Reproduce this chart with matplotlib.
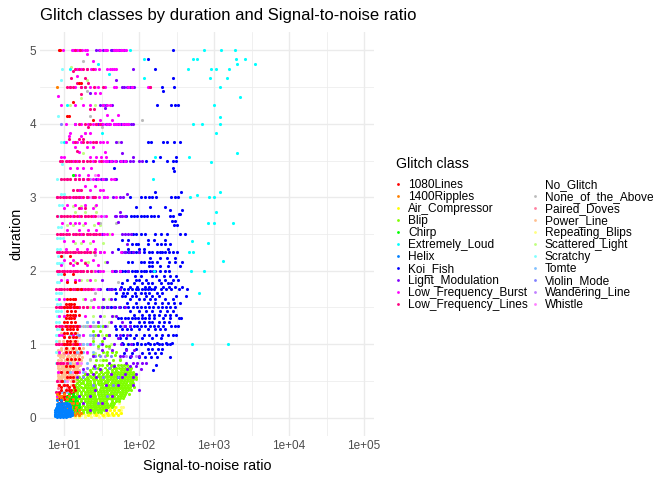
import matplotlib
matplotlib.use('Agg')
import matplotlib.pyplot as plt
from matplotlib.lines import Line2D

plt.rcParams['font.family'] = ['Liberation Sans', 'DejaVu Sans']

# class names and colours, legend order
classes = ['1080Lines', '1400Ripples', 'Air_Compressor', 'Blip', 'Chirp', 'Extremely_Loud',
           'Helix', 'Koi_Fish', 'Light_Modulation', 'Low_Frequency_Burst', 'Low_Frequency_Lines',
           'No_Glitch', 'None_of_the_Above', 'Paired_Doves', 'Power_Line', 'Repeating_Blips',
           'Scattered_Light', 'Scratchy', 'Tomte', 'Violin_Mode', 'Wandering_Line', 'Whistle']
colors = ['#FF0000', '#FF8000', '#FFFF00', '#80FF00', '#00FF00', '#00FFFF',
          '#0080FF', '#0000FF', '#8000FF', '#FF00FF', '#FF0080',
          '#FFFFFF', '#BBBBBB', '#FF80A0', '#FFC090', '#FFFF80',
          '#C0FF80', '#80FFFF', '#80C0FF', '#8080FF', '#C080FF', '#FF80FF']

# every class: duration -> signal-to-noise values
lines_1080 = {
    5: [8.5, 8.8], 4.55: [16, 17], 4.3: [13], 4.1: [11, 11.5], 4.05: [24], 2.2: [9, 12], 1.95: [10, 13],
    1.85: [11, 14], 1.75: [12, 15, 17],
    1.62: [11, 12, 13, 14], 1.55: [10.5, 11.5, 12.5, 13.5], 1.5: [10, 11, 12, 13.5, 15], 1.45: [11, 12.5, 14],
    1.4: [11, 12, 13, 14, 16], 1.35: [10.5, 11.5, 12.5, 13.5], 1.3: [10, 11, 12.5, 14], 1.25: [10.5, 12, 13, 15],
    1.2: [9.5, 11, 12, 13, 15], 1.15: [10, 11, 12.5, 14], 1.1: [10, 11.5, 13, 14.5], 1.05: [11, 12, 14],
    1: [10, 11, 12, 14, 15], 0.95: [10.5, 13, 16], 0.9: [10.5, 12, 13.5, 17],
    0.8: [11, 12.5, 14, 16], 0.7: [10.5, 12, 13], 0.62: [9, 11, 14, 15], 0.55: [11, 12, 13], 0.5: [9.5, 13],
    0.45: [8.5, 10, 11, 13], 0.42: [9, 11.5, 13.5], 0.38: [9, 10.5, 11.5, 12.5, 14], 0.34: [8.5, 10, 12, 13],
    0.3: [9, 10, 11, 13], 0.27: [9.5, 11, 12.5], 0.25: [8.5, 10, 11.5, 12], 0.22: [9, 10.5, 13],
    0.18: [8.5, 9.5, 11, 12, 13], 0.15: [10, 13.5], 0.12: [9, 10.5, 12],
}
ripples_1400 = {
    4.5: [8], 0.32: [8, 10], 0.3: [8.5, 9, 11.5], 0.25: [8, 9.5, 11, 13], 0.2: [8.2, 10, 12, 13, 15], 0.15: [8, 9, 11, 12.5, 14.5],
    0.1: [8.5, 10.5, 12, 14, 16], 0.06: [9, 11, 13, 15, 17], 0.03: [8, 12, 14, 16],
}
air_compressor = {
    0.25: [30, 36], 0.2: [27, 32, 38, 45], 0.15: [23, 28, 34, 38, 42, 48], 0.1: [20, 25, 30, 36, 41, 47, 54],
    0.06: [18, 22, 26, 31, 37, 43, 50, 57], 0.03: [16, 21, 27, 33, 39, 45, 52],
}
blip = {
    1.25: [28, 33], 1.18: [24, 30], 1.12: [26, 36], 1.05: [32, 24], 0.98: [36, 40, 28], 0.9: [33, 38, 44, 50], 0.85: [29, 38, 48, 24],
    0.78: [33, 36, 55, 27, 45],
    0.72: [26, 29, 32, 38, 42, 46, 52, 58, 64, 70],
    0.68: [24, 28, 35, 41, 47, 50, 54, 60, 66, 72, 78],
    0.65: [22, 30, 33, 37, 44, 49, 57, 63, 69, 75],
    0.62: [23, 27, 31, 35, 39, 44, 48, 53, 58, 63, 70, 76, 84],
    0.6: [19, 21, 25, 29, 33, 37, 42, 46, 51, 56, 61, 67, 73, 80, 88],
    0.57: [18, 22, 25, 28, 32, 36, 40, 44, 49, 55, 61, 67, 73, 80, 86],
    0.55: [16, 20, 23, 26, 30, 34, 38, 42, 47, 52, 58, 64, 70, 77, 84, 92],
    0.52: [15, 17, 19, 21, 24, 27, 30, 33, 37, 41, 45, 50, 55, 60, 66, 72, 78, 84, 90],
    0.5: [16, 18, 20, 22, 25, 28, 31, 35, 39, 43, 48, 53, 58, 63, 69, 75, 81],
    0.47: [15, 17, 18, 20, 22, 25, 28, 31, 34, 38, 42, 46, 51, 56, 62, 68, 75, 82],
    0.45: [14, 16, 19, 21, 23, 26, 29, 32, 36, 40, 44, 49, 54, 60, 66, 72, 79],
    0.42: [14, 15, 17, 19, 21, 23, 26, 29, 32, 35, 39, 43, 47, 52, 58, 64, 70, 76, 85],
    0.4: [13.5, 15.5, 18, 20, 22, 24, 27, 30, 33, 37, 41, 45, 50, 55, 61, 67, 73],
    0.37: [13, 14.5, 16, 18, 20, 22, 24, 27, 30, 33, 36, 40, 44, 48, 53, 59, 65, 72, 78],
    0.35: [13.5, 15, 17, 19, 21, 23, 25, 28, 31, 34, 38, 42, 46, 51, 56, 62, 68],
    0.32: [13, 15, 17, 19, 21, 23, 25, 28, 31, 34, 37, 41, 45, 50, 55, 60, 66, 74],
    0.3: [14, 16, 18, 20, 22, 24, 26, 29, 32, 35, 39, 43, 47, 52, 57, 63],
    0.27: [13, 14, 16, 18, 20, 22, 24, 26, 29, 32, 35, 38, 42, 46, 51, 56, 62],
    0.25: [13.5, 15, 17, 19, 21, 23, 25, 27, 30, 33, 37, 40, 44, 49, 54],
    0.22: [13, 15, 17, 19, 21, 23, 25, 27, 30, 33, 36, 40, 44, 49, 54],
    0.2: [14, 16, 18, 20, 22, 24, 26, 28, 31, 34, 38, 42, 47],
    0.17: [13, 14.5, 16, 18, 20, 22, 24, 26, 28, 31, 34, 37, 41, 45],
    0.15: [13.5, 15, 17, 19, 21, 23, 25, 27, 29, 32, 35, 39, 43],
    0.12: [13, 14, 15.5, 17, 19, 21, 23, 25, 27, 30, 33, 36],
    0.1: [14.5, 16, 18, 20, 22, 24, 26, 28, 31, 34],
    0.08: [14, 16, 18, 20, 22, 25, 28, 31],
}
chirp = {
    3.3: [13], 0.32: [11.5, 13], 0.28: [11, 12.5, 13.5, 14.5], 0.25: [11.5, 13, 14], 0.22: [10.5, 11.5, 12.5, 14, 15],
    0.18: [11, 12, 13, 14, 15, 16], 0.14: [10.5, 11.5, 13, 14.5, 16], 0.1: [11, 12, 13.5, 15], 0.06: [12, 13, 15],
}
extremely_loud = {
    5: [76, 730, 1250, 1920], 4.88: [118, 530, 600, 1950, 2600], 4.82: [2000, 3500, 28],
    4.75: [450, 1070, 900, 1600, 12], 4.68: [40], 4.62: [885, 1500, 115], 4.5: [1200, 19],
    4.37: [2200], 4.25: [1000, 34, 11], 4.09: [1200], 4: [520, 700, 1200], 3.87: [1050, 32],
    3.75: [10], 3.6: [2000], 3.55: [470, 165], 3.48: [900], 3.25: [155, 36], 3.07: [1200],
    3.03: [590], 3: [480, 860, 1000], 2.8: [1050], 2.65: [830, 1000, 1800], 2.41: [510],
    2.38: [830], 2.25: [470, 530], 2.13: [1300], 2: [500, 730, 160], 1.69: [640], 1: [510, 1530],
}
helix = {
    0.24: [8, 9], 0.2: [8.5, 9.5, 10.2, 11], 0.18: [8, 9, 10, 11, 11.8], 0.16: [8, 8.6, 9.2, 10, 10.8, 11, 12],
    0.13: [7.8, 8.6, 9.4, 10.3, 11.5, 12.2], 0.11: [7.7, 8.2, 9, 9.8, 10.6, 11.4],
    0.1: [8, 8.8, 9.6, 10.5, 11.3, 12.5], 0.08: [7.8, 8.5, 9.3, 10.2, 11, 11.8, 12.8], 0.07: [7.6, 8.4, 9.2, 10, 11, 12],
    0.05: [7.7, 8.3, 9.1, 9.9, 10.8, 11.7, 12.6], 0.04: [7.6, 8.2, 9, 9.8, 10.7, 11.6, 12.8],
    0.02: [7.7, 8.5, 9.3, 10.2, 11.2, 12.2], 0.01: [8, 8.8, 9.6, 10.5],
}
koi_fish = {
    5: [286], 4.88: [133], 4.75: [165], 4.62: [280], 4.5: [200, 290], 4.45: [210],
    4.25: [172, 270, 300, 330], 3.75: [130, 143, 210, 235, 290, 350],
    3.55: [190, 310], 3.5: [125, 152, 235, 285, 315], 3.4: [47, 283], 3.36: [295],
    3.25: [35, 48], 3.07: [360, 165], 3: [75, 105, 120, 135, 150, 168, 270, 300, 335],
    2.87: [90, 140, 225], 2.82: [258, 370], 2.77: [350, 340],
    2.75: [68, 78, 86, 95, 105, 118, 128, 145, 160, 180, 262, 285],
    2.68: [275, 300], 2.62: [290, 320], 2.5: [165, 195, 235, 350, 410, 82, 92, 105, 120],
    2.42: [60, 72, 130, 160, 225], 2.37: [80, 90, 98, 133, 172, 195, 222, 258],
    2.3: [53, 72, 100, 118, 240],
    2.25: [65, 72, 78, 84, 92, 100, 118, 135, 150, 172, 188, 205, 225, 250, 280, 320],
    2.18: [140, 190, 235, 300], 2.12: [72, 80, 105, 118, 135, 150, 172, 250, 300, 380],
    2.06: [135, 150, 190, 350, 240],
    2: [48, 55, 60, 66, 72, 80, 88, 95, 105, 115, 125, 140, 155, 165, 190, 225, 250],
    1.93: [88, 105, 150, 170, 215, 260, 310], 1.88: [70, 90, 100, 125, 185, 225, 280, 330], 1.83: [60, 85, 110, 130, 150, 195, 240, 270],
    1.78: [58, 75, 95, 120, 135, 165, 210, 250, 300, 370],
    1.75: [37, 42, 48, 56, 64, 72, 80, 90, 98, 108, 120, 132, 145, 160, 195, 230, 270, 345, 430],
    1.7: [50, 62, 70, 88, 105, 120, 135, 175, 200], 1.65: [60, 66, 80, 92, 125, 150, 185, 310, 420],
    1.62: [48, 75, 100, 115, 140, 165, 225, 280], 1.56: [70, 90, 130, 165, 200, 245, 290, 350],
    1.5: [33, 37, 42, 48, 55, 63, 72, 82, 93, 105, 120, 135, 155, 180, 205, 232, 262, 305],
    1.45: [75, 100, 125, 150, 190, 235, 285], 1.4: [85, 110, 135, 160, 185, 225, 260, 315],
    1.36: [52, 58, 65, 72, 80, 88, 97, 108, 120, 135, 160, 210, 260, 340, 360],
    1.3: [75, 100, 118, 135, 150, 185, 215, 250], 1.25: [48, 56, 66, 75, 85, 95, 105, 120, 140, 160, 178, 210, 270, 300, 335],
    1.2: [50, 60, 70, 78, 100, 130, 165, 190, 225], 1.13: [40, 50, 62, 75, 90, 115, 138, 170, 205, 240, 280, 315],
    1.08: [55, 68, 85, 110, 150, 195], 1.02: [60, 95, 130, 175, 230, 275],
    1: [62, 72, 84, 95, 105, 122, 140, 160, 185, 200, 235, 255], 0.94: [68, 90, 130, 150, 180, 200],
    0.88: [64, 80, 110, 135, 165, 195], 0.82: [75, 100, 120, 145, 175, 260], 0.72: [170], 0.65: [155], 0.55: [52],
}
light_mod = {
    5: [27, 29, 33, 36, 42, 44, 46, 50, 54, 58, 64], 4.75: [84], 4.6: [50], 4.5: [60, 64, 70, 76, 80, 86],
    4.42: [22], 4.25: [30, 33, 36, 44], 4.21: [35], 4: [14, 28, 32, 36, 40, 46, 52, 58, 64, 72, 78, 84],
    3.75: [58, 50], 3.6: [60], 3.55: [84], 3.5: [36, 40, 44, 50, 56, 62, 68, 75, 84, 100, 110],
    3.25: [27, 31, 36, 50], 3.05: [70], 3: [16, 20, 24, 34, 45, 55, 62], 2.8: [56], 2.75: [48, 50, 55, 60, 66],
    2.66: [52], 2.5: [60, 66, 72, 78, 32], 2.37: [70], 2.25: [60, 66, 74, 84, 100, 30, 44], 2.12: [38],
    2: [44, 50, 56, 72, 28], 1.88: [32], 1.75: [40, 44, 56, 30], 1.62: [33, 42], 1.5: [46, 54, 66, 32, 38],
    1.38: [30, 50, 44], 1.3: [42, 60, 28], 1.25: [35, 65, 76], 1.13: [28, 40, 56, 70],
    1.08: [34, 52], 1: [32, 46, 58, 78], 0.92: [32, 44, 68, 86], 0.84: [62, 24, 55, 78, 100],
    0.75: [40, 68, 82, 95, 110, 125], 0.7: [25, 46, 76, 90], 0.66: [18, 30, 70, 105],
    0.6: [20, 24, 42, 66, 90], 0.55: [15, 27, 60, 84], 0.45: [84, 36, 52], 0.38: [100, 26],
    0.3: [16, 22, 44], 0.2: [18, 32], 0.1: [22, 36],
}
lf_burst = {
    5: [9.8, 12.6, 13.2, 14, 15, 16, 17.5, 19, 20, 30, 35, 38, 46, 49, 53, 57, 62, 68], 4.95: [20],
    4.85: [24], 4.75: [15, 17, 20, 23, 26, 29, 37, 41, 44, 47, 50], 4.65: [15],
    4.5: [12, 14, 17, 22, 28, 35, 47, 50, 72, 80, 130, 140], 4.42: [26, 30], 4.38: [8.2], 4.25: [9, 14, 18, 22, 33, 38, 41],
    4.12: [37, 52], 4.05: [30, 44], 4: [10.5, 14, 17, 21, 24, 27, 33, 37, 41, 46, 50, 54, 62, 68, 72],
    3.87: [12, 19, 22], 3.83: [11.5, 17], 3.75: [10.5, 13, 15, 17, 22, 27, 30, 33, 37], 3.68: [14, 24, 20],
    3.62: [16, 35], 3.55: [9, 10, 22, 27, 31, 36], 3.5: [11, 13, 15, 18, 24, 29, 33, 36, 38, 42, 48, 58, 66],
    3.4: [12, 18, 23, 15], 3.3: [14, 21, 28, 16], 3.25: [11, 14, 16, 18, 20, 24, 28, 33, 42, 46], 3.15: [19, 26], 3.1: [16, 22, 33, 30],
    3: [8, 10, 12, 14, 17, 21, 25, 29, 34, 38, 50], 2.9: [11, 14, 19, 27], 2.85: [10, 17, 24],
    2.75: [9, 13, 16, 19, 24, 31, 36], 2.65: [9.5, 14, 19, 28, 12, 16], 2.55: [11, 16, 21, 27],
    2.5: [9, 11, 14, 17, 21, 25, 30, 34, 38, 44], 2.4: [13, 18, 24, 10], 2.3: [10.5, 15, 26, 20],
    2.25: [8.5, 11, 13, 16, 19, 22, 26, 30, 34, 58], 2.15: [10, 17, 24, 13], 2.08: [13, 20, 28, 9],
    2: [8.5, 10, 12, 15, 17, 20, 23, 26, 30, 33, 44, 56], 1.88: [11, 16, 22, 9, 14], 1.75: [9, 12, 15, 18, 21, 24, 28],
    1.62: [10, 14, 19, 25, 8.5], 1.5: [9, 12, 16, 20, 24, 28], 1.38: [10, 14, 19, 8.5], 1.25: [11, 15, 22, 9],
    1.13: [9.5, 13, 18, 8.5], 1: [10, 16, 22, 8.3], 0.9: [12, 20, 8.5], 0.75: [9, 15, 8], 0.62: [8.2, 16], 0.45: [8.5, 10],
    0.3: [8, 9],
}
lf_lines = {
    5: [14, 16.5], 4.72: [13], 4.75: [14, 16, 18, 20.5, 24], 4.62: [12.5, 19], 4.55: [15, 21],
    4.5: [11, 12, 13, 17, 19, 25, 33, 141], 4.4: [17], 4.2: [22, 25], 4: [16, 19, 22, 27, 30],
    3.95: [21], 3.8: [11.5, 16, 18], 3.75: [14, 18, 20, 24, 27], 3.63: [15], 3.5: [8.8, 9.5, 10.5, 11.5, 12.5, 14, 16, 18, 20, 22, 26, 31],
    3.25: [9, 10, 11, 12, 14, 16, 18, 21], 3.1: [13, 15, 17], 3: [8, 8.8, 9.6, 10.5, 11.5, 13, 14.5, 16, 18, 20, 24, 26],
    2.85: [16, 19], 2.75: [8, 9, 10, 11, 12, 13.5, 15, 17, 19, 21, 23, 26],
    2.5: [8, 8.8, 9.6, 10.5, 11.5, 13, 14.5, 16, 18, 20, 22, 24, 27, 29],
    2.25: [8, 8.7, 9.4, 10.2, 11, 12, 13, 14, 15.5, 17, 18.5, 20, 22, 25],
    2.1: [12, 15, 19], 2: [8, 8.7, 9.4, 10.1, 11, 12, 13, 14, 15, 16.5, 18, 20, 23],
    1.75: [7.8, 8.5, 9.2, 10, 11, 12, 13, 14, 15.5, 17, 19, 21, 23],
    1.5: [7.8, 8.5, 9.2, 10, 11, 12, 13, 14.5, 16, 18, 20], 1.25: [7.8, 8.6, 9.4, 10.3, 11.3, 12.5, 14, 16],
    1: [7.8, 8.6, 9.5, 10.5, 11.5, 13, 14.5], 0.75: [8, 8.8, 9.8, 11], 0.5: [8, 9], 0.35: [7.8, 8.6],
}
no_glitch = {0.65: [34], 0.42: [28], 0.22: [40]}
none_above = {
    4.85: [18], 4.45: [20], 4.1: [22], 4.05: [110], 3.87: [19], 3.95: [32], 3.75: [52], 2.65: [30, 50],
    2.22: [26], 2: [47], 1.85: [52], 1.7: [26], 1.6: [23], 1.25: [15, 18, 20, 22, 24, 26, 38],
    1.08: [24], 0.95: [28, 40], 0.8: [22, 56], 0.55: [30], 0.45: [19],
}
paired_doves = {
    2.75: [11], 2: [12], 1.5: [9, 14], 1.38: [10, 13], 1.25: [9, 12], 1.13: [8.5, 10, 15], 1: [9, 12, 17],
    0.88: [8.5, 10, 14, 16], 0.75: [8.2, 11, 15], 0.62: [9, 12, 14], 0.5: [8.5, 10, 13], 0.4: [8.2, 11],
    0.28: [8, 10, 12], 0.2: [9.5], 0.12: [8.2],
}
power_line = {
    1.15: [9, 11, 13, 15], 1.1: [10, 12, 14, 16], 1.05: [8.6, 9.6, 11, 13, 15], 1: [10.5, 13, 15, 17], 0.95: [9, 11, 12.5, 14, 16, 18],
    0.92: [8.2, 9.2, 10.2, 11.4, 12.8, 14.4, 16.2], 0.88: [8.6, 9.6, 11, 12, 13.5, 15, 17], 0.85: [8.2, 9, 10, 11.2, 12.6, 14.2, 16],
    0.82: [8.8, 9.8, 10.8, 12.2, 13.8, 15.5, 17.5], 0.78: [8.2, 9.2, 10.2, 11.2, 12.4, 13.8, 15.2, 17],
    0.75: [8.5, 9.5, 10.5, 11.5, 12.8, 14.2, 16], 0.72: [8.2, 9, 10, 11, 12.2, 13.4, 14.8, 16.4], 0.7: [8.4, 9.3, 10.2, 11.3, 12.6, 14, 15.5],
    0.67: [8.2, 9.1, 10, 11, 12.2, 13.5, 15], 0.65: [8.6, 9.6, 10.6, 11.8, 13, 14.5, 16], 0.62: [8.2, 9.1, 10.1, 11.2, 12.4, 13.8, 15.2],
    0.6: [8.4, 9.4, 10.4, 11.6, 12.9, 14.4], 0.57: [8.2, 9.1, 10, 11.1, 12.3, 13.7, 15.2],
    0.55: [8.5, 9.5, 10.6, 12, 13.4, 15], 0.52: [8.2, 9.2, 10.2, 11.4, 12.7, 14.2], 0.5: [8.6, 9.7, 11, 12.4, 14, 15.5],
    0.45: [8.4, 9.6, 11, 12.5, 14], 0.35: [8.2, 9, 10, 12],
}
repeating_blips = {
    0.3: [34, 40], 0.25: [28, 36, 44, 50], 0.2: [30, 38, 46, 54], 0.15: [26, 33, 41, 49, 58, 62],
    0.1: [18, 22, 26, 30, 35, 40, 46, 52, 58], 0.06: [14, 16, 18, 21, 24, 27, 31, 35, 39, 44, 49, 55],
    0.03: [13, 15, 17, 19, 22, 25, 28, 32, 36, 41, 47], 0.01: [14, 16, 19, 23, 29, 34],
}
scattered = {
    4.77: [12.5], 4.6: [20], 4.35: [17], 4.25: [12, 26], 3.6: [18], 3.25: [12], 3: [11], 2.88: [13, 17, 19, 26],
    2.8: [14, 19, 27], 2.62: [11, 13, 18, 25, 30], 2.5: [15, 20, 40], 2.38: [14, 17, 22, 33], 2.25: [12, 16, 23],
    2.12: [14, 19, 21, 35], 2: [15, 18, 25, 32], 1.88: [14, 17, 20, 26], 1.75: [16, 22, 28], 1.62: [18, 25, 34, 40],
    1.5: [22, 30, 36], 1.38: [24, 34, 45], 1.3: [20, 28, 40], 1.13: [22, 32, 38], 1: [20, 30, 42, 70],
    0.88: [26, 36], 0.78: [22, 30],
}
scratchy = {
    4.75: [9.5], 4.6: [9], 4.1: [8.3], 3.75: [9], 3.45: [9.5], 3.25: [8, 9], 3.05: [9, 10], 2.9: [8.5, 9.5],
    2.75: [8.4], 2.6: [8.2, 9], 2.45: [8, 8.8, 9.6], 2.3: [8, 8.8], 2.2: [8.4, 9.4], 2.1: [8, 8.7, 9.3],
    1.95: [8.2, 9], 1.85: [8, 8.6], 1.7: [7.9, 8.5, 9.2], 1.62: [7.8, 8.3], 1.55: [8.1, 8.8], 1.45: [7.8, 8.4, 9], 1.38: [8, 8.6],
    1.3: [7.9, 8.6], 1.2: [8, 8.8], 1.13: [7.8, 8.4], 1.05: [7.9, 8.5], 0.9: [7.8, 8.4], 0.75: [7.9],
}
tomte = {
    1.3: [20, 24, 28], 1.25: [14, 16.5, 19, 21, 23, 25, 27, 30, 33], 1.12: [15, 22, 28, 12, 18],
    1: [14, 16, 18, 20, 22, 24, 30], 0.9: [15, 18, 24], 0.75: [12, 15, 20], 0.62: [12, 18],
    0.5: [10, 13], 0.35: [9.5, 11], 0.2: [10, 12.5],
}
violin_mode = {
    4: [9], 1.13: [16, 24], 0.84: [26, 30, 42], 0.68: [20, 26, 40], 0.55: [18, 33, 52], 0.45: [24, 45],
    0.3: [22, 38], 0.2: [28],
}
wandering = {
    3.25: [18, 22], 4: [30], 3: [24], 2.75: [34], 1.5: [28, 40], 1.25: [62], 0.84: [68, 75, 90, 35],
    0.7: [42, 60], 0.55: [30, 55], 0.42: [24, 44],
}
whistle = {
    4.75: [15], 4.5: [26], 3.75: [13], 3.3: [26], 3: [15, 23], 2.75: [13, 21, 28], 2.5: [18, 26], 2.25: [14, 22],
    2: [11, 18, 24], 1.75: [13, 20, 26, 55], 1.5: [12, 18, 24], 1.25: [11, 16], 1: [9, 14, 18], 0.88: [11, 20],
    0.75: [10, 17], 0.62: [9, 13, 19], 0.5: [8, 11, 16], 0.35: [8.5, 12], 0.2: [8.5],
}

class_rows = {'1080Lines': lines_1080, '1400Ripples': ripples_1400, 'Air_Compressor': air_compressor,
              'Blip': blip, 'Chirp': chirp, 'Extremely_Loud': extremely_loud, 'Helix': helix,
              'Koi_Fish': koi_fish, 'Light_Modulation': light_mod, 'Low_Frequency_Burst': lf_burst,
              'Low_Frequency_Lines': lf_lines, 'No_Glitch': no_glitch, 'None_of_the_Above': none_above,
              'Paired_Doves': paired_doves, 'Power_Line': power_line, 'Repeating_Blips': repeating_blips,
              'Scattered_Light': scattered, 'Scratchy': scratchy, 'Tomte': tomte, 'Violin_Mode': violin_mode,
              'Wandering_Line': wandering, 'Whistle': whistle}

# painting order, later classes sit on top
draw_order = ['Repeating_Blips', 'Air_Compressor', 'Scratchy', 'Power_Line', 'Paired_Doves', 'Whistle',
              'Scattered_Light', 'Tomte', 'Wandering_Line', 'None_of_the_Above', 'Blip', 'No_Glitch', 'Koi_Fish',
              'Violin_Mode', 'Extremely_Loud', 'Light_Modulation', 'Low_Frequency_Burst', 'Low_Frequency_Lines',
              '1080Lines', 'Chirp', '1400Ripples', 'Helix']

fig = plt.figure(figsize=(7, 5), dpi=96)
W, H = 672, 480
ax = fig.add_axes([40 / W, 1 - 436 / H, (374 - 40) / W, (436 - 32) / H])

for name in draw_order:
    rows = class_rows[name]
    xs = [s for d in rows for s in rows[d]]
    ys = [d for d in rows for s in rows[d]]
    ax.scatter(xs, ys, s=5.5, color=colors[classes.index(name)], linewidths=0, zorder=3)

ax.set_xscale('log')
ax.set_xlim(10 ** 0.68, 10 ** 5.133)
ax.set_ylim(-0.25, 5.25)
ax.set_xticks([1e1, 1e2, 1e3, 1e4, 1e5])
ax.set_xticklabels(['1e+01', '1e+02', '1e+03', '1e+04', '1e+05'])
ax.set_xticks([10 ** 1.5, 10 ** 2.5, 10 ** 3.5, 10 ** 4.5], minor=True)
ax.set_xticklabels([], minor=True)
ax.set_yticks([0, 1, 2, 3, 4, 5])
ax.set_yticks([0.5, 1.5, 2.5, 3.5, 4.5], minor=True)
ax.grid(which='major', color='#EBEBEB', linewidth=1.05, zorder=0)
ax.grid(which='minor', color='#EBEBEB', linewidth=0.55, zorder=0)
ax.set_axisbelow(True)
ax.tick_params(which='both', length=0, labelsize=8.8, labelcolor='#4D4D4D', pad=3)
for s in ax.spines.values():
    s.set_visible(False)

ax.set_xlabel('Signal-to-noise ratio', fontsize=10.8, labelpad=5)
ax.set_ylabel('duration', fontsize=10.8, labelpad=4.5)
fig.text(40 / W, 1 - 15.5 / H, 'Glitch classes by duration and Signal-to-noise ratio',
         fontsize=12.5, va='center', ha='left')

fig.text(396 / W, 1 - 164 / H, 'Glitch class', fontsize=10.6, va='center', ha='left')
handles = [Line2D([], [], linestyle='', marker='o', markersize=2.1, markeredgewidth=0, color=c) for c in colors]
leg = fig.legend(handles, classes, ncol=2, frameon=False, fontsize=8.95,
                 loc='upper left', bbox_to_anchor=(393 / W, 1 - 179 / H),
                 borderaxespad=0, borderpad=0, labelspacing=0, handlelength=0.8, handletextpad=0.45,
                 columnspacing=0.2)

fig.savefig('out.png', dpi=96)
